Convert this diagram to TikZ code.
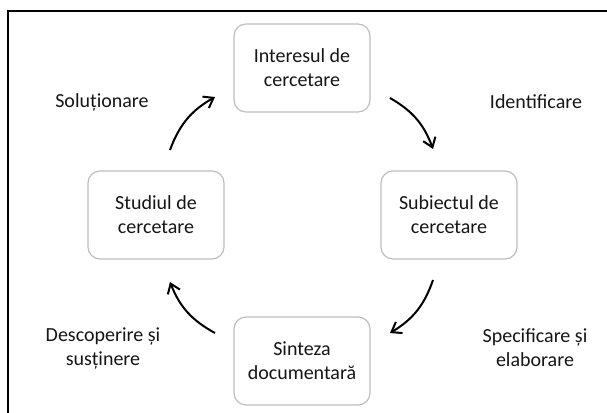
\documentclass[tikz,border=0pt]{standalone}
\usepackage{fontspec}
\setmainfont{Carlito}
\usepackage{tikz}
\usetikzlibrary{arrows.meta}
\definecolor{boxgray}{HTML}{BDBDBD}
\definecolor{textgray}{HTML}{151515}
\tikzset{
    stage/.style={
        draw=boxgray, line width=0.6pt, rounded corners=6pt,
        minimum width=68pt, minimum height=44pt,
        align=center, text=textgray, font=\fontsize{10}{12}\selectfont
    },
    phase/.style={
        align=center, text=textgray, font=\fontsize{10}{12}\selectfont
    },
    flow/.style={
        line width=1pt, -{Straight Barb[length=4.5pt,width=6.5pt,line width=1pt]},
        bend left=20
    }
}

\begin{document}
\begin{tikzpicture}[x=0.5pt,y=-0.5pt]
		% Page and frame
		\useasboundingbox (0,0) rectangle (607,413);
		\draw[line width=0.6pt] (8,413) -- (8,11) -- (607,11);

		% Stages of the cycle
		\node[stage] (interes) at (302,68) {Interesul de\\cercetare};
		\node[stage] (subiect) at (449,215) {Subiectul de\\cercetare};
		\node[stage] (sinteza) at (302,361) {Sinteza\\documentară};
		\node[stage] (studiu) at (156,215) {Studiul de\\cercetare};

		% Phase labels
		\node[phase] (solutie) at (102,102) {Soluționare};
		\node[phase] (ident) at (536,102) {Identificare};
		\node[phase] (descop) at (103,348) {Descoperire și\\susținere};
		\node[phase] (specif) at (535,348) {Specificare și\\elaborare};

		% Arrow ends
		\coordinate (a1) at (390,98);
		\coordinate (b1) at (433,149);
		\coordinate (a2) at (433,280);
		\coordinate (b2) at (390,333);
		\coordinate (a3) at (215,333);
		\coordinate (b3) at (170,282);
		\coordinate (a4) at (170,150);
		\coordinate (b4) at (215,97);

		\draw[flow] (a1) to (b1);
		\draw[flow] (a2) to (b2);
		\draw[flow] (a3) to (b3);
		\draw[flow] (a4) to (b4);

	\end{tikzpicture}
\end{document}
